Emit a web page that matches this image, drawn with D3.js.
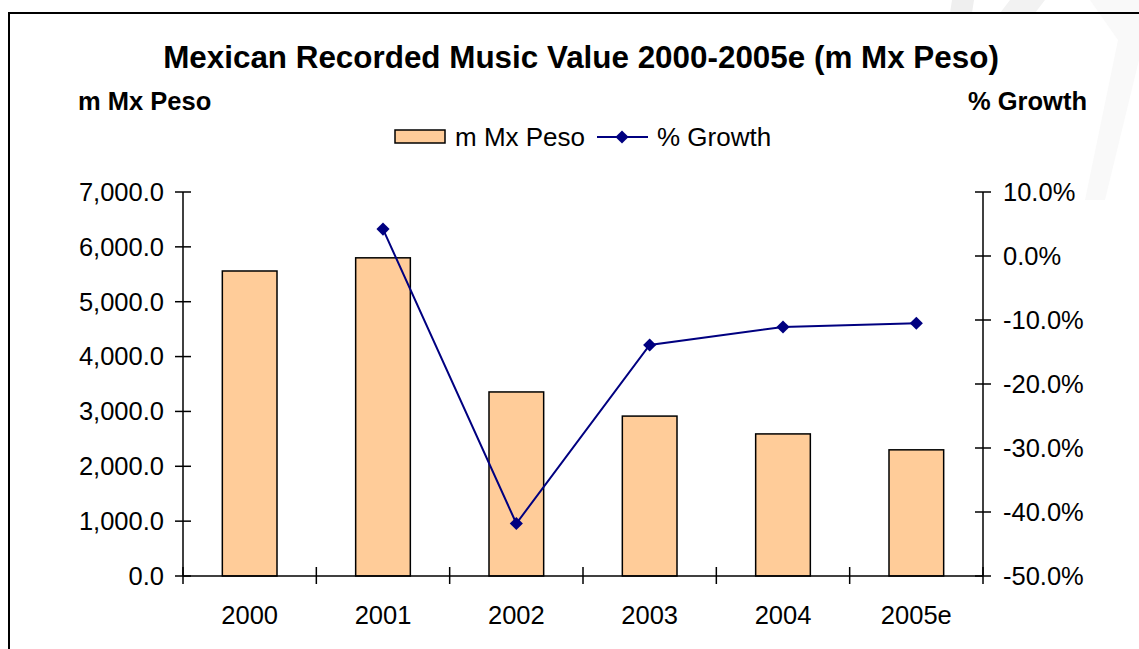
<!DOCTYPE html>
<html>
<head>
<meta charset="utf-8">
<script src="https://cdn.jsdelivr.net/npm/d3@7"></script>
<style>
  html, body { margin: 0; padding: 0; background: #fff; }
  svg { display: block; font-family: "Liberation Sans", Arial, sans-serif; }
</style>
</head>
<body>
<svg id="chart" width="1139" height="649"></svg>
<script>
const categories = ["2000", "2001", "2002", "2003", "2004", "2005e"];
const valueSeries = [5560, 5800, 3355, 2915, 2590, 2300];
const growthSeries = [null, 4.2, -41.8, -13.9, -11.1, -10.5];
const leftTicks = [0, 1000, 2000, 3000, 4000, 5000, 6000, 7000];
const rightTicks = [-50, -40, -30, -20, -10, 0, 10];

const svg = d3.select("#chart");
const W = 1139, H = 649;
const plot = { left: 183, right: 983, top: 192, bottom: 576 };

// faint watermark shapes
svg.append("path").attr("d", "M952,0 L974,0 L972,13 L950,13 Z").attr("fill", "#efefef");
svg.append("path").attr("d", "M1010,0 L1045,0 L1035,13 L1000,13 Z").attr("fill", "#f2f2f2");
svg.append("path").attr("d", "M1090,0 L1139,0 L1139,60 L1105,200 L1085,200 L1118,40 Z").attr("fill", "#f9f9f9");

// chart border
svg.append("rect").attr("x", 9).attr("y", 13).attr("width", W + 20).attr("height", H + 20)
  .attr("fill", "none").attr("stroke", "#000").attr("stroke-width", 2);

const x = d3.scaleBand().domain(categories).range([plot.left, plot.right]).paddingInner(0.59).paddingOuter(0.295);
const xOuter = d3.scaleBand().domain(categories).range([plot.left, plot.right]);
const yL = d3.scaleLinear().domain([0, 7000]).range([plot.bottom, plot.top]);
const yR = d3.scaleLinear().domain([-50, 10]).range([plot.bottom, plot.top]);

// bars
svg.append("g").selectAll("rect").data(valueSeries).join("rect")
  .attr("x", (d, i) => x(categories[i]))
  .attr("y", d => yL(d))
  .attr("width", x.bandwidth())
  .attr("height", d => yL(0) - yL(d))
  .attr("fill", "#FFCC99").attr("stroke", "#000").attr("stroke-width", 1.5);

const FS = 25.5;

// left axis
const fmtL = d3.format(",.1f");
const gL = svg.append("g").attr("transform", `translate(${plot.left},0)`);
gL.append("line").attr("y1", plot.top).attr("y2", plot.bottom).attr("stroke", "#000").attr("stroke-width", 1.5);
gL.selectAll("line.t").data(leftTicks).join("line").attr("class", "t")
  .attr("x1", -8).attr("x2", 8).attr("y1", d => yL(d)).attr("y2", d => yL(d))
  .attr("stroke", "#000").attr("stroke-width", 1.5);
gL.selectAll("text").data(leftTicks).join("text")
  .attr("x", -19).attr("y", d => yL(d)).attr("dy", "0.35em")
  .attr("text-anchor", "end").attr("font-size", FS).text(d => fmtL(d));

// right axis
const fmtR = d => d.toFixed(1) + "%";
const gR = svg.append("g").attr("transform", `translate(${plot.right},0)`);
gR.append("line").attr("y1", plot.top).attr("y2", plot.bottom).attr("stroke", "#000").attr("stroke-width", 1.5);
gR.selectAll("line.t").data(rightTicks).join("line").attr("class", "t")
  .attr("x1", -8).attr("x2", 8).attr("y1", d => yR(d)).attr("y2", d => yR(d))
  .attr("stroke", "#000").attr("stroke-width", 1.5);
gR.selectAll("text").data(rightTicks).join("text")
  .attr("x", 20).attr("y", d => yR(d)).attr("dy", "0.35em")
  .attr("text-anchor", "start").attr("font-size", FS).text(fmtR);

// x axis
const gX = svg.append("g").attr("transform", `translate(0,${plot.bottom})`);
gX.append("line").attr("x1", plot.left).attr("x2", plot.right).attr("stroke", "#000").attr("stroke-width", 1.5);
const xTickPos = categories.map(c => xOuter(c)).concat([plot.right]);
gX.selectAll("line.t").data(xTickPos).join("line").attr("class", "t")
  .attr("x1", d => d).attr("x2", d => d).attr("y1", -9).attr("y2", 8)
  .attr("stroke", "#000").attr("stroke-width", 1.5);
gX.selectAll("text").data(categories).join("text")
  .attr("x", d => xOuter(d) + xOuter.bandwidth() / 2).attr("y", 48)
  .attr("text-anchor", "middle").attr("font-size", FS).text(d => d);

// growth line
const pts = growthSeries.map((g, i) => ({ c: categories[i], g })).filter(p => p.g !== null);
const cx = c => xOuter(c) + xOuter.bandwidth() / 2;
svg.append("path").datum(pts)
  .attr("d", d3.line().x(p => cx(p.c)).y(p => yR(p.g)))
  .attr("fill", "none").attr("stroke", "#000080").attr("stroke-width", 2);
const diamond = d3.symbol().type(d3.symbolDiamond2).size(110);
svg.append("g").selectAll("path").data(pts).join("path")
  .attr("transform", p => `translate(${cx(p.c)},${yR(p.g)})`)
  .attr("d", diamond).attr("fill", "#000080");

// titles
svg.append("text").attr("x", 581).attr("y", 68).attr("text-anchor", "middle")
  .attr("font-size", 31.4).attr("font-weight", "bold").text("Mexican Recorded Music Value 2000-2005e (m Mx Peso)");
svg.append("text").attr("x", 78).attr("y", 110).attr("font-size", 25.5).attr("font-weight", "bold").text("m Mx Peso");
svg.append("text").attr("x", 1087).attr("y", 110).attr("text-anchor", "end").attr("font-size", 25.5).attr("font-weight", "bold").text("% Growth");

// legend
const lg = svg.append("g");
lg.append("rect").attr("x", 395).attr("y", 130).attr("width", 50).attr("height", 13)
  .attr("fill", "#FFCC99").attr("stroke", "#000").attr("stroke-width", 1.5);
lg.append("text").attr("x", 455).attr("y", 146).attr("font-size", 26).text("m Mx Peso");
lg.append("line").attr("x1", 597).attr("x2", 648).attr("y1", 137).attr("y2", 137)
  .attr("stroke", "#000080").attr("stroke-width", 2);
lg.append("path").attr("transform", "translate(622,137)").attr("d", diamond).attr("fill", "#000080");
lg.append("text").attr("x", 657).attr("y", 146).attr("font-size", 26).text("% Growth");
</script>
</body>
</html>
